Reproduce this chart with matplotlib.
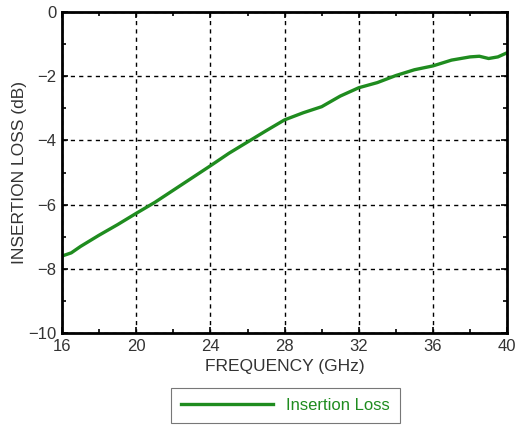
import numpy as np
import matplotlib.pyplot as plt
from matplotlib.ticker import MultipleLocator

plt.rcParams['font.family'] = ['Liberation Sans', 'DejaVu Sans']

# insertion loss
freq = [16, 16.5, 17, 18, 19, 20, 21, 22, 23, 24, 25, 26, 27, 28, 29, 30,
        31, 32, 33, 34, 35, 36, 37, 38, 38.5, 39, 39.5, 40]
loss = [-7.60, -7.50, -7.30, -6.95, -6.62, -6.27, -5.93, -5.55, -5.17, -4.79,
        -4.40, -4.05, -3.70, -3.36, -3.14, -2.95, -2.62, -2.36, -2.20, -1.98,
        -1.80, -1.68, -1.50, -1.40, -1.38, -1.45, -1.40, -1.27]

xticks = [16, 20, 24, 28, 32, 36, 40]
yticks = [0, -2, -4, -6, -8, -10]

fig = plt.figure(figsize=(5.17, 4.26), dpi=100)
ax = fig.add_axes([0.12, 0.218, 0.861, 0.754])

ax.plot(freq, loss, '-', color='#1f8c1f', lw=2.4, label='Insertion Loss')

ax.set_xlim(16, 40)
ax.set_ylim(-10, 0)
ax.set_xticks(xticks)
ax.set_yticks(yticks)
ax.xaxis.set_minor_locator(MultipleLocator(2))
ax.yaxis.set_minor_locator(MultipleLocator(1))
ax.tick_params(which='both', direction='in', colors='black', labelcolor='#333333',
               labelsize=12, width=1.2, top=True, right=True)
ax.tick_params(which='major', length=4, pad=4)
ax.tick_params(which='minor', length=3)
ax.grid(which='major', color='black', ls=(0, (3, 3)), lw=1)

for s in ax.spines.values():
    s.set_linewidth(2)

ax.set_xlabel('FREQUENCY (GHz)', fontsize=12.5, color='#333333', labelpad=4)
ax.set_ylabel('INSERTION LOSS (dB)', fontsize=12.5, color='#333333', labelpad=1)

leg = fig.legend(loc='center', bbox_to_anchor=(0.552, 0.048), fontsize=12,
                 handlelength=5.5, fancybox=False, edgecolor='#777777',
                 borderpad=0.6, framealpha=1)
leg.get_frame().set_linewidth(0.8)
for t in leg.get_texts():
    t.set_color('#1f8c1f')

plt.savefig('out.png', dpi=100)
